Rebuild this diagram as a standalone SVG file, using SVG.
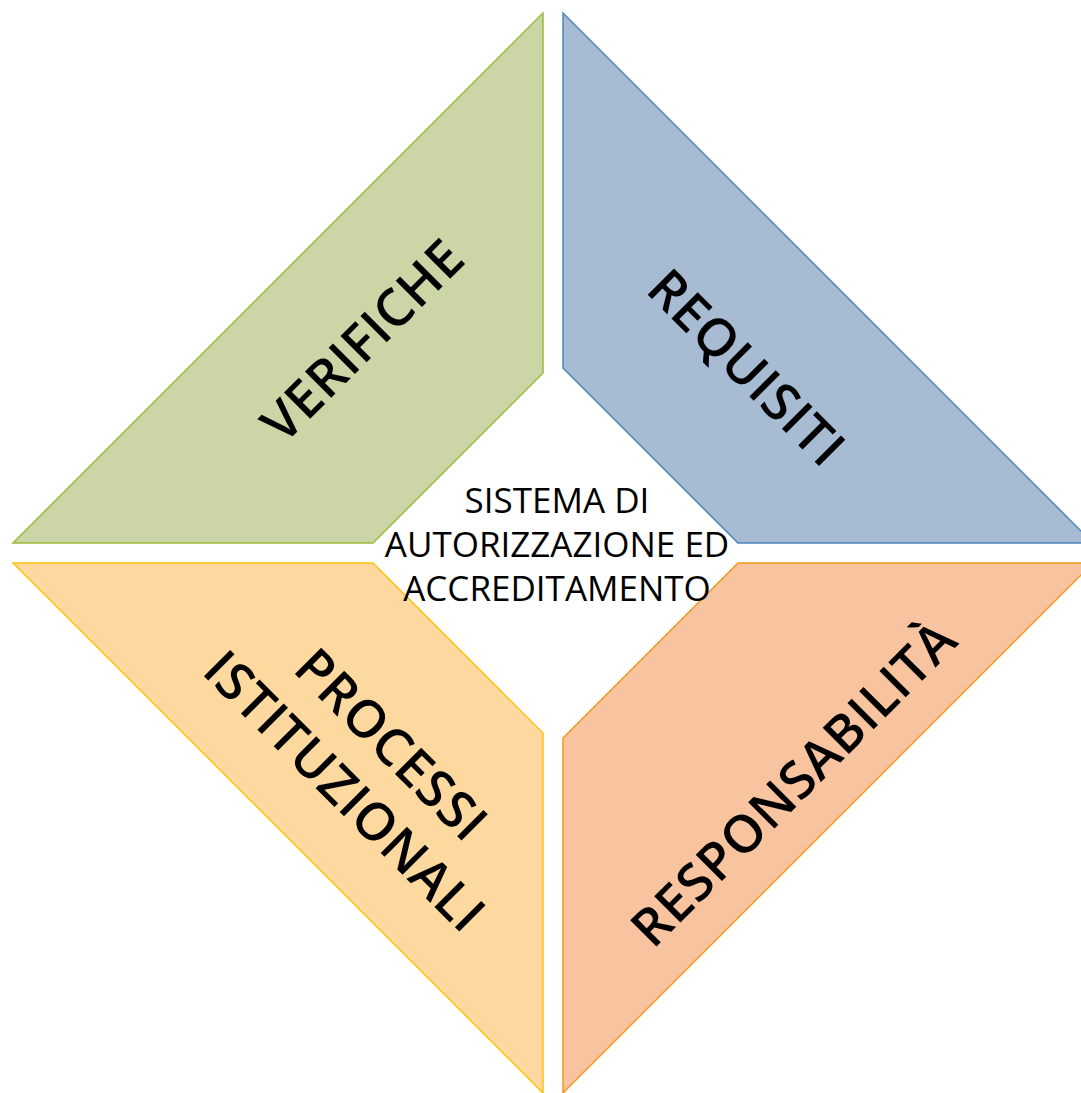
<svg xmlns="http://www.w3.org/2000/svg" width="1081" height="1093" viewBox="0 0 1081 1093">
<style>
.shape{stroke-width:1.5;stroke-linejoin:miter}
.lbl{font-family:"Open Sans","Noto Sans","Liberation Sans",sans-serif;font-weight:600;font-size:52px;letter-spacing:0.6px;fill:#000;text-anchor:middle;dominant-baseline:central}
.ctr{font-family:"Open Sans","Noto Sans","Liberation Sans",sans-serif;font-weight:400;font-size:35px;fill:#000;text-anchor:middle}
</style>
<rect width="1081" height="1093" fill="#ffffff"/>
<g id="verifiche">
<polygon class="shape" points="13,543 543,13 543,373 373,543" fill="#CCD5A5" stroke="#9BBB3A"/>
<text class="lbl" transform="translate(361,339) rotate(-45)">VERIFICHE</text>
</g>
<g id="requisiti">
<polygon class="shape" points="563,13 1093,543 738,543 563,368" fill="#A7BCD2" stroke="#4A86BB"/>
<text class="lbl" transform="translate(748,366) rotate(45)">REQUISITI</text>
</g>
<g id="processi">
<polygon class="shape" points="13,563 373,563 543,733 543,1093" fill="#FDD99F" stroke="#FFC20E"/>
<text class="lbl" transform="translate(370,766) rotate(45)"><tspan x="0" y="-33">PROCESSI</tspan><tspan x="0" y="33">ISTITUZIONALI</tspan></text>
</g>
<g id="responsabilita">
<polygon class="shape" points="563,1093 563,738 738,563 1093,563" fill="#F8C4A0" stroke="#F39A1E"/>
<text class="lbl" transform="translate(792,782) rotate(-45)">RESPONSABILITÀ</text>
</g>
<g id="centro">
<text class="ctr" x="557" y="513">SISTEMA DI</text>
<text class="ctr" x="557" y="557">AUTORIZZAZIONE ED</text>
<text class="ctr" x="557" y="601">ACCREDITAMENTO</text>
</g>
<g id="connectors"></g>
</svg>
